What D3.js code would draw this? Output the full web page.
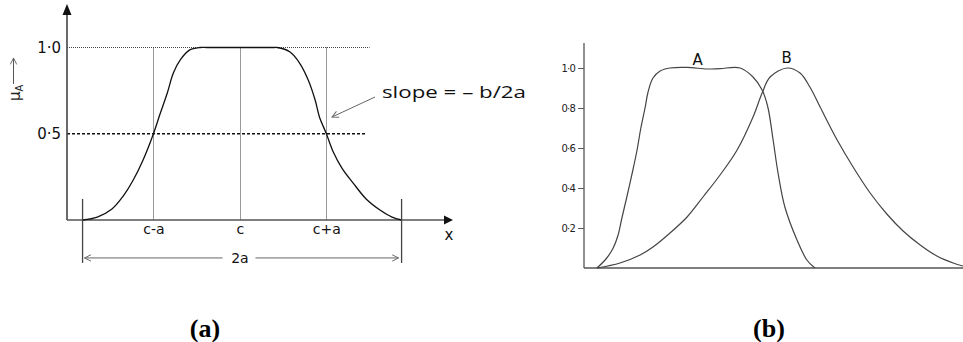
<!DOCTYPE html>
<html>
<head>
<meta charset="utf-8">
<script src="https://cdn.jsdelivr.net/npm/d3@7"></script>
<style>
  body { margin: 0; background: #fff; }
  svg { display: block; }
</style>
</head>
<body>
<div id="chart"></div>
<script>
// ---- panel (a): generalised bell membership function ----
const bellX = [-1.82, -1.65, -1.48, -1.35, -1.24, -1.12, -1.0, -0.92, -0.84, -0.77, -0.69, -0.58, -0.46, -0.38,
               0.40, 0.43, 0.58, 0.69, 0.79, 0.87, 0.92, 1.0, 1.08, 1.18, 1.31, 1.46, 1.62, 1.76, 1.87];
const bellY = [0, 0.017, 0.064, 0.139, 0.226, 0.348, 0.5, 0.62, 0.736, 0.852, 0.928, 0.986, 1.0, 1.0,
               1.0, 1.0, 0.974, 0.91, 0.812, 0.696, 0.597, 0.5, 0.394, 0.301, 0.214, 0.122, 0.058, 0.017, 0];
const bellTicks = [-1, 0, 1];
const bellTickLabels = ["c-a", "c", "c+a"];
const bellLevels = [1.0, 0.5];
const bellLevelLabels = ["1·0", "0·5"];

// ---- panel (b): two fuzzy sets A and B ----
const aX = [0.34, 0.58, 0.77, 0.90, 1.00, 1.13, 1.29, 1.40, 1.50, 1.61, 1.69, 1.82, 2.01, 2.27, 2.72, 3.25, 3.59,
            4.12, 4.46, 4.70, 4.85, 4.99, 5.12, 5.30, 5.62, 5.88, 6.09];
const aY = [0, 0.045, 0.10, 0.165, 0.25, 0.355, 0.49, 0.59, 0.70, 0.80, 0.88, 0.95, 0.985, 1.0, 1.003, 0.995, 0.997,
            1.0, 0.955, 0.89, 0.805, 0.64, 0.475, 0.305, 0.14, 0.04, 0];
const bX = [0.34, 0.95, 1.48, 1.82, 2.27, 2.72, 3.14, 3.59, 4.04, 4.46, 4.70, 4.91, 5.36, 5.70, 5.96, 6.23, 6.68,
            7.10, 7.55, 7.99, 8.42, 8.87, 9.31, 9.74, 10.0];
const bY = [0, 0.025, 0.065, 0.105, 0.175, 0.255, 0.355, 0.465, 0.59, 0.755, 0.875, 0.955, 1.0, 0.975, 0.905,
            0.805, 0.64, 0.505, 0.375, 0.27, 0.185, 0.115, 0.06, 0.025, 0.01];
const bTicks = [0.2, 0.4, 0.6, 0.8, 1.0];
const bTickLabels = ["0·2", "0·4", "0·6", "0·8", "1·0"];

const W = 963, H = 342;
const svg = d3.select("#chart").append("svg").attr("width", W).attr("height", H);

const defs = svg.append("defs");
defs.append("marker").attr("id", "open").attr("viewBox", "0 0 10 10")
  .attr("refX", 9).attr("refY", 5).attr("markerWidth", 8).attr("markerHeight", 8)
  .attr("orient", "auto-start-reverse").attr("markerUnits", "userSpaceOnUse")
  .append("path").attr("d", "M1,1 L9,5 L1,9").attr("fill", "none").attr("stroke", "#666").attr("stroke-width", 1.2);

const smooth = d3.curveCatmullRom.alpha(0.5);

// ================= panel (a) =================
const xa = d3.scaleLinear().domain([-2, 2.43]).range([67, 450]);
const ya = d3.scaleLinear().domain([0, 1]).range([220, 47.5]);
const ga = svg.append("g");

// reference lines
ga.append("line").attr("x1", xa(-2)).attr("x2", xa(1.5)).attr("y1", ya(1)).attr("y2", ya(1))
  .attr("stroke", "#444").attr("stroke-width", 1).attr("stroke-dasharray", "1,1");
ga.append("line").attr("x1", xa(-2)).attr("x2", xa(1.47)).attr("y1", ya(0.5)).attr("y2", ya(0.5))
  .attr("stroke", "#111").attr("stroke-width", 1.3).attr("stroke-dasharray", "3,2");
ga.selectAll(".vref").data(bellTicks).enter().append("line")
  .attr("x1", d => Math.round(xa(d)) + 0.5).attr("x2", d => Math.round(xa(d)) + 0.5)
  .attr("y1", ya(1)).attr("y2", ya(0))
  .attr("stroke", "#333").attr("stroke-width", 1).attr("stroke-dasharray", "1,1");

// axes
ga.append("line").attr("x1", xa(-2)).attr("x2", xa(-2)).attr("y1", ya(0)).attr("y2", 13)
  .attr("stroke", "#444").attr("stroke-width", 1.6);
ga.append("path").attr("d", `M${xa(-2) - 4.5},15 L${xa(-2)},4 L${xa(-2) + 4.5},15 Z`).attr("fill", "#111");
ga.append("line").attr("x1", xa(-2)).attr("x2", 445).attr("y1", ya(0)).attr("y2", ya(0))
  .attr("stroke", "#555").attr("stroke-width", 1.6);
ga.append("path").attr("d", `M444,${ya(0) - 4.5} L453,${ya(0)} L444,${ya(0) + 4.5} Z`).attr("fill", "#111");

// bottom tick labels via axis
ga.append("g").attr("transform", `translate(0,${ya(0)})`)
  .call(d3.axisBottom(xa).tickValues(bellTicks).tickSize(0).tickPadding(4)
    .tickFormat((d, i) => bellTickLabels[i]))
  .call(g => g.select(".domain").remove())
  .selectAll("text").attr("font-family", "DejaVu Sans").attr("font-size", 14).attr("fill", "#111");

ga.selectAll(".lvl").data(bellLevels).enter().append("text")
  .attr("x", 61).attr("y", d => ya(d) + 5).attr("text-anchor", "end")
  .attr("font-family", "DejaVu Sans").attr("font-size", 15).attr("fill", "#111")
  .text((d, i) => bellLevelLabels[i]);

ga.append("text").attr("x", 449).attr("y", 240).attr("text-anchor", "middle")
  .attr("font-family", "DejaVu Sans").attr("font-size", 15).attr("fill", "#111").text("x");

// mu_A label
const mu = ga.append("text").attr("transform", "translate(20,101) rotate(-90)")
  .attr("font-family", "DejaVu Sans").attr("font-size", 15).attr("fill", "#222");
mu.append("tspan").text("μ");
mu.append("tspan").attr("font-size", 10).attr("dy", 3).text("A");
ga.append("line").attr("x1", 13.5).attr("x2", 13.5).attr("y1", 84).attr("y2", 58)
  .attr("stroke", "#555").attr("stroke-width", 1).attr("marker-end", "url(#open)");

// the membership curve
const lineA = d3.line().x(d => xa(d[0])).y(d => ya(d[1])).curve(smooth);
ga.append("path").datum(bellX.map((x, i) => [x, bellY[i]]))
  .attr("d", lineA).attr("fill", "none").attr("stroke", "#111").attr("stroke-width", 1.3);

// 2a width markers
const ends = [bellX[0], bellX[bellX.length - 1]];
ga.selectAll(".endl").data(ends).enter().append("line")
  .attr("x1", d => xa(d)).attr("x2", d => xa(d)).attr("y1", ya(0.122)).attr("y2", ya(-0.249))
  .attr("stroke", "#444").attr("stroke-width", 1.3);
ga.append("line").attr("x1", xa(-0.2)).attr("x2", xa(ends[0]) + 2).attr("y1", ya(-0.22)).attr("y2", ya(-0.22))
  .attr("stroke", "#666").attr("stroke-width", 1).attr("marker-end", "url(#open)");
ga.append("line").attr("x1", xa(0.18)).attr("x2", xa(ends[1]) - 3).attr("y1", ya(-0.22)).attr("y2", ya(-0.22))
  .attr("stroke", "#666").attr("stroke-width", 1).attr("marker-end", "url(#open)");
ga.append("text").attr("x", xa(0)).attr("y", ya(-0.22) + 5).attr("text-anchor", "middle")
  .attr("font-family", "DejaVu Sans").attr("font-size", 14).attr("fill", "#111").text("2a");

// slope annotation
ga.append("text").attr("x", 382).attr("y", 98)
  .attr("font-family", "Open Sans").attr("font-size", 16).attr("fill", "#111")
  .attr("textLength", 144).attr("lengthAdjust", "spacingAndGlyphs").text("slope = – b/2a");
ga.append("line").attr("x1", 375).attr("y1", 97).attr("x2", 332).attr("y2", 117)
  .attr("stroke", "#666").attr("stroke-width", 1).attr("marker-end", "url(#open)");

// ================= panel (b) =================
const xb = d3.scaleLinear().domain([0, 10]).range([584, 963]);
const yb = d3.scaleLinear().domain([0, 1]).range([268, 68]);
const gb = svg.append("g");

gb.append("g").attr("transform", `translate(${xb(0)},0)`)
  .call(d3.axisLeft(yb).tickValues(bTicks).tickSize(6).tickPadding(3)
    .tickFormat((d, i) => bTickLabels[i]))
  .call(g => g.select(".domain").remove())
  .call(g => g.selectAll("line").attr("stroke", "#555"))
  .selectAll("text").attr("font-family", "DejaVu Sans").attr("font-size", 10)
  .attr("letter-spacing", -0.8).attr("fill", "#222");
gb.append("line").attr("x1", xb(0)).attr("x2", xb(0)).attr("y1", 43).attr("y2", yb(0))
  .attr("stroke", "#555").attr("stroke-width", 1.3);
gb.append("line").attr("x1", xb(0)).attr("x2", W).attr("y1", yb(0)).attr("y2", yb(0))
  .attr("stroke", "#555").attr("stroke-width", 1.3);

const lineB = d3.line().x(d => xb(d[0])).y(d => yb(d[1])).curve(smooth);
gb.append("path").datum(aX.map((x, i) => [x, aY[i]]))
  .attr("d", lineB).attr("fill", "none").attr("stroke", "#444").attr("stroke-width", 1.2);
gb.append("path").datum(bX.map((x, i) => [x, bY[i]]))
  .attr("d", lineB).attr("fill", "none").attr("stroke", "#444").attr("stroke-width", 1.2);

gb.append("text").attr("x", xb(3.0)).attr("y", 65).attr("text-anchor", "middle")
  .attr("font-family", "DejaVu Sans").attr("font-size", 15).attr("fill", "#111").text("A");
gb.append("text").attr("x", xb(5.35)).attr("y", 63).attr("text-anchor", "middle")
  .attr("font-family", "DejaVu Sans").attr("font-size", 15).attr("fill", "#111").text("B");

// captions
svg.append("text").attr("x", 205).attr("y", 337).attr("text-anchor", "middle")
  .attr("font-family", "Liberation Serif").attr("font-weight", "bold").attr("font-size", 26).text("(a)");
svg.append("text").attr("x", 769).attr("y", 337).attr("text-anchor", "middle")
  .attr("font-family", "Liberation Serif").attr("font-weight", "bold").attr("font-size", 26).text("(b)");
</script>
</body>
</html>
